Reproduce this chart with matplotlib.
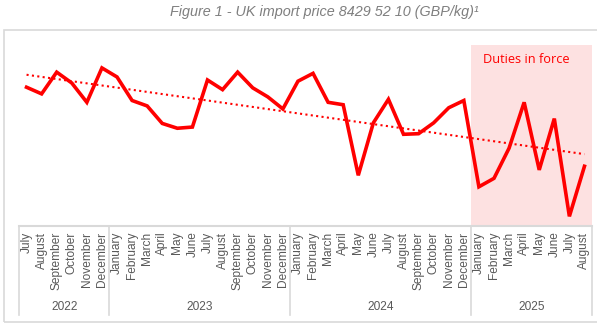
import numpy as np
import matplotlib
matplotlib.use("Agg")
import matplotlib.pyplot as plt
import matplotlib.transforms as mtransforms
from matplotlib import font_manager as fm
from matplotlib.patches import Rectangle

# monthly import price, July 2022 - August 2025 (GBP/kg)
months_2022 = ["July", "August", "September", "October", "November", "December"]
months_full = ["January", "February", "March", "April", "May", "June",
               "July", "August", "September", "October", "November", "December"]
months_2025 = ["January", "February", "March", "April", "May", "June", "July", "August"]
years = ["2022", "2023", "2024", "2025"]

price_2022 = [3.30, 3.19, 3.55, 3.37, 3.05, 3.62]
price_2023 = [3.47, 3.08, 2.99, 2.70, 2.62, 2.64, 3.42, 3.26, 3.55, 3.29, 3.14, 2.94]
price_2024 = [3.40, 3.53, 3.05, 3.01, 1.84, 2.71, 3.10, 2.52, 2.53, 2.71, 2.96, 3.08]
price_2025 = [1.65, 1.79, 2.29, 3.05, 1.93, 2.78, 1.16, 1.99]

labels = months_2022 + months_full + months_full + months_2025
prices = np.array(price_2022 + price_2023 + price_2024 + price_2025)
year_sizes = [len(price_2022), len(price_2023), len(price_2024), len(price_2025)]
x = np.arange(len(prices))


def lib_sans(style, size):
    # plain Liberation Sans file (not the Narrow variant)
    for f in fm.fontManager.ttflist:
        if f.name == "Liberation Sans" and f.style == style and "Narrow" not in f.fname \
                and f.weight in (400, "normal", "regular"):
            return fm.FontProperties(fname=f.fname, size=size)
    return fm.FontProperties(family="Liberation Sans", style=style, size=size)


W, H = 597, 333
fig = plt.figure(figsize=(W / 100, H / 100), dpi=100)
ax = fig.add_axes([19 / W, 1 - 226 / H, 573 / W, 181 / H])

grey = "#d9d9d9"
txt = "#595959"
red = "#ff0000"

# frame around the chart
fig.patches.append(Rectangle((4 / W, 1 - 322 / H), 600 / W, 292 / H, transform=fig.transFigure,
                             fill=False, edgecolor=grey, linewidth=1.2))

fig.text(170 / W, 1 - 12 / H, "Figure 1 - UK import price 8429 52 10 (GBP/kg)\u00b9",
         fontproperties=lib_sans("italic", 10.4), color="#7f7f7f", ha="left", va="center")

# period with duties in force
duty_start = len(prices) - len(price_2025)
ax.axvspan(duty_start - 0.5, len(prices) - 0.5, color="#fde1e1", lw=0, zorder=0)
ax.text(duty_start + 0.3, 3.76, "Duties in force", color=red, fontsize=9.2,
        family="Open Sans", ha="left", va="center")

ax.plot(x, prices, color=red, lw=2.6, solid_joinstyle="miter", zorder=3)

# linear trend
k, b = np.polyfit(x, prices, 1)
ax.plot(x, k * x + b, color=red, lw=1.5, ls=(0, (1, 1.6)), zorder=2)

ax.set_xlim(-0.5, len(prices) - 0.5)
ax.set_ylim(1.0, 4.0)
ax.set_yticks([])
for s in ["left", "right", "top"]:
    ax.spines[s].set_visible(False)
ax.spines["bottom"].set_color(grey)
ax.spines["bottom"].set_linewidth(1.5)

tick_font = lib_sans("normal", 8.6)
ax.set_xticks(x)
ax.set_xticklabels(labels, rotation=90, color=txt, fontproperties=tick_font)
ax.tick_params(axis="x", length=0, pad=4)

# year groups under the month labels
trans = mtransforms.blended_transform_factory(ax.transData, ax.transAxes)
edges = np.concatenate([[0], np.cumsum(year_sizes)]) - 0.5
for e in edges:
    ax.plot([e, e], [0, -0.49], color=grey, lw=1.2, transform=trans, clip_on=False)
for i, yr in enumerate(years):
    ax.text((edges[i] + edges[i + 1]) / 2, -0.45, yr, transform=trans, ha="center",
            va="center", color=txt, fontproperties=lib_sans("normal", 8.6))

fig.savefig("out.png", dpi=100)
